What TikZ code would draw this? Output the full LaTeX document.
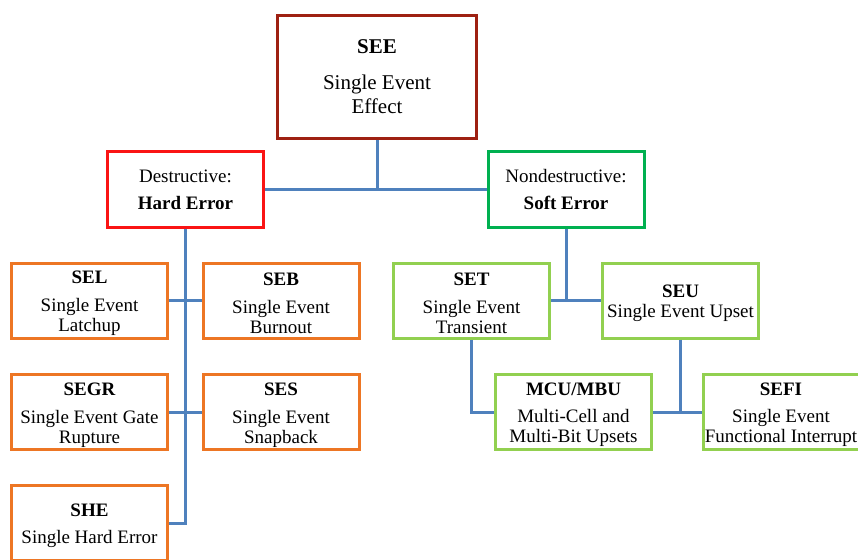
\documentclass[tikz,border=0pt]{standalone}
\usepackage{fontspec}
\setmainfont{Liberation Serif}
\definecolor{seered}{RGB}{158,32,18}
\definecolor{hardred}{RGB}{250,20,20}
\definecolor{softgreen}{RGB}{0,176,80}
\definecolor{hardorange}{RGB}{237,118,36}
\definecolor{softlime}{RGB}{146,208,80}
\definecolor{linkblue}{RGB}{79,129,189}
\usetikzlibrary{positioning}
\newcommand{\leafhead}[1]{\rule{0pt}{19pt}\textbf{#1}}

\begin{document}
\begin{tikzpicture}[x=1pt, y=-1pt,
  box/.style={draw, line width=3pt, fill=white, minimum width=156pt, minimum height=75pt,
              align=center, inner sep=1pt, font=\fontsize{19}{20}\selectfont},
  hardbox/.style={box, draw=hardorange},
  softbox/.style={box, draw=softlime},
  link/.style={linkblue, line width=3pt}]

\useasboundingbox (0,0) rectangle (858,559);
\clip (0,0) rectangle (858,559);

% === Root ===
\node[box, draw=seered, minimum width=199pt, minimum height=123pt,
      font=\fontsize{21}{24}\selectfont] (see) at (377,77)
     {\textbf{SEE}\\[12pt]Single Event\\Effect};

% === Two classes ===
\node[box, draw=hardred, minimum height=76pt] (hard) at (185.5,189.5)
     {Destructive:\\[7pt]\textbf{Hard Error}};
\node[box, draw=softgreen, minimum height=76pt] (soft) at (566,189.5)
     {Nondestructive:\\[7pt]\textbf{Soft Error}};

% === Hard errors ===
\node[hardbox] (sel)  at (89.5,300.5)  {\leafhead{SEL}\\[8pt]Single Event\\Latchup};
\node[hardbox] (seb)  at (281,300.5)   {\leafhead{SEB}\\[8pt]Single Event\\Burnout};
\node[hardbox] (segr) at (89.5,412)    {\leafhead{SEGR}\\[8pt]Single Event Gate\\Rupture};
\node[hardbox] (ses)  at (281,412)     {\leafhead{SES}\\[8pt]Single Event\\Snapback};
\node[hardbox] (she)  at (89.5,523)    {\leafhead{SHE}\\[7pt]Single Hard Error};

% === Soft errors ===
\node[softbox] (set)  at (471.5,300.5) {\leafhead{SET}\\[8pt]Single Event\\Transient};
\node[softbox] (seu)  at (680.5,300.5) {\leafhead{SEU}\\Single Event Upset};
\node[softbox] (mcu)  at (573.5,412)   {\leafhead{MCU/MBU}\\[7pt]Multi-Cell and\\Multi-Bit Upsets};
\node[softbox] (sefi) at (781,412)     {\leafhead{SEFI}\\[7pt]Single Event\\Functional Interrupt};

% === Connectors ===
\draw[link] (see.south) -- (see.south |- hard.east);
\draw[link] (hard.east) -- (soft.west);

\draw[link] (hard.south) |- (she.east);
\draw[link] (sel.east) -- (seb.west);
\draw[link] (segr.east) -- (ses.west);

\draw[link] (soft.south) -- (soft.south |- set.east);
\draw[link] (set.east) -- (seu.west);
\draw[link] (set.south) |- (mcu.west);
\draw[link] (seu.south) -- (seu.south |- mcu.east);
\draw[link] (mcu.east) -- (sefi.west);

\end{tikzpicture}
\end{document}
